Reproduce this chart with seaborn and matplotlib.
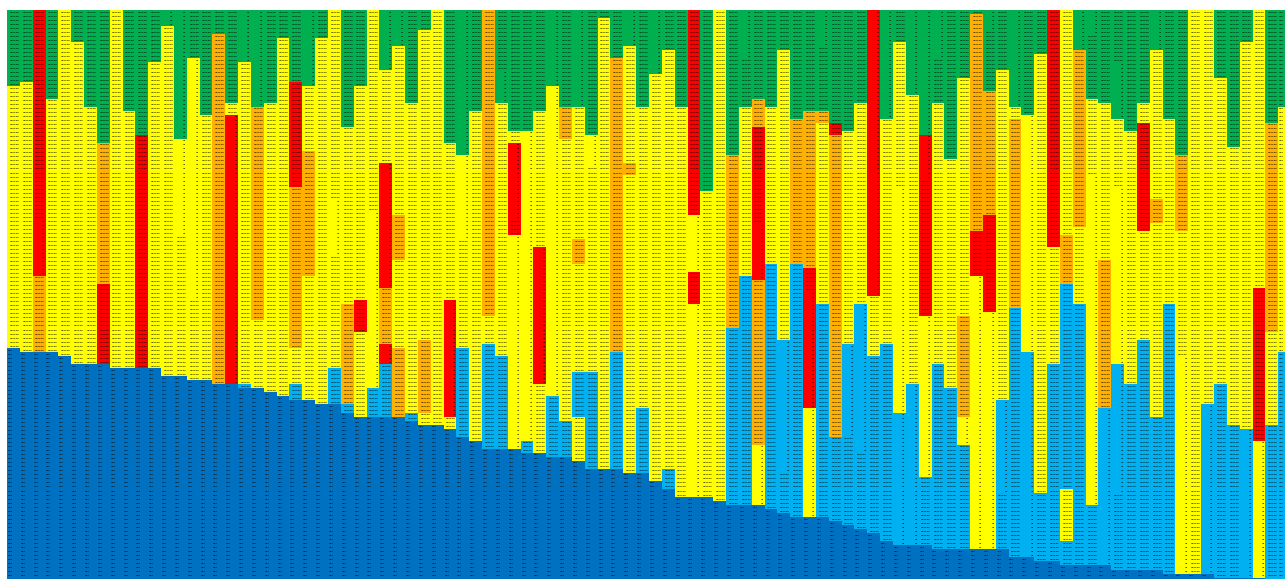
import numpy as np
import seaborn as sb
import matplotlib
matplotlib.use("Agg")
import matplotlib.pyplot as plt
from matplotlib.colors import ListedColormap

# each column from top to bottom: band letter + row where the band ends
columns = [
"G19 Y84 D142","G18 Y85 D142","R66 O85 D142","G22 Y85 D142","Y86 D142","G8 Y88 D142","G24 Y88 D142","G33 O68 R88 D142",
"Y89 D142","G25 Y89 D142","G31 R89 D142","G13 Y89 D142","G4 Y91 D142","G32 Y91 D142","G12 Y92 D142","G26 Y92 D142",
"G6 O93 D142","G23 Y26 R93 D142","G13 Y93 B94 D142","G24 O77 Y94 D142","G23 Y95 D142","G7 Y96 D142","G18 R44 O84 Y93 B97 D142","G19 Y35 O66 Y97 D142",
"G7 Y98 D142","Y89 B98 D142","G29 Y73 O98 B100 D142","G19 Y72 R80 Y101 D142","Y94 B101 D142","G15 Y38 R69 O83 R88 B101 D142","G9 Y51 O62 Y84 O101 D142","G23 Y100 B102 D142",
"G5 Y82 O100 Y103 D142","Y103 D142","G33 Y72 R101 Y104 D142","G36 Y84 B106 D142","G25 Y107 D142","O76 Y83 B109 D142","G23 Y86 B109 D142","G30 Y33 R56 Y109 D142",
"G30 Y107 B110 D142","G25 Y59 R93 Y110 D142","G19 Y96 B111 D142","G24 O32 Y102 B111 D142","G24 Y57 O63 Y90 B101 Y112 D142","G31 Y90 B114 D142","G2 Y114 D142","G12 O85 B114 D142",
"G9 Y38 O41 Y115 D142","G24 Y99 B115 D142","G16 Y117 D142","G10 Y114 B119 D142","G24 Y121 D142","R51 Y65 R73 Y121 D142","G45 Y121 D142","Y122 D142",
"G36 O79 B123 D142","G24 Y66 B123 D142","G22 O29 R67 O108 Y123 D142","G24 Y63 B124 D142","G10 Y82 B125 D142","G27 O63 B126 D142","G25 O64 R99 Y126 D142","G25 O28 Y73 B126 D142",
"G28 R31 O106 B127 D142","G30 Y83 B128 D142","G23 Y73 B129 D142","R71 Y86 B130 D142","G27 Y83 B132 D142","G8 Y100 B133 D142","G21 Y93 B133 D142","G31 R76 Y116 B133 D142",
"G23 Y88 B134 D142","G37 Y94 B134 D142","G17 Y76 O101 Y108 B134 D142","G1 O55 R66 Y134 D142","G20 O51 R75 Y134 D142","G15 Y97 B134 D142","G24 Y27 O74 B136 D142","G26 Y85 B136 D142",
"G11 Y120 B137 D142","R59 Y88 B137 D142","Y56 O68 B119 Y132 B138 D142","G10 O54 Y73 B138 D142","G22 Y123 B138 D142","G23 Y62 O99 B138 D142","G27 Y88 B139 D142","G30 Y93 B139 D142",
"G23 Y28 R55 Y82 B139 D142","G10 Y47 O53 Y101 B139 D142","G27 Y73 B140 D142","G36 O55 Y140 D142","Y140 D142","Y98 B140 D142","G17 Y93 B141 D142","G34 Y103 B141 D142",
"G8 Y104 B141 D142","Y69 R107 Y141 D142","G28 O80 Y103 B142","G24 Y85 B142",
]
band_letters = ["G", "Y", "O", "R", "B", "D"]
band_colors = ["#00B050", "#FFFF00", "#FFB000", "#FF0000", "#00B0F0", "#0070C0"]
# tiny cell texts are not readable in the picture, these are estimates
long_label = "123456"
short_label = "12"
blue_label = "123"
# cells that hold only a short number: column, first row, end row
short_cols = [2, 12, 13, 14, 17, 18, 19, 23, 25, 28, 29, 29, 29, 30, 34, 35, 38, 39, 39, 40, 41, 42, 44, 45, 48,
              50, 53, 53, 57, 58, 58, 60, 62, 62, 63, 65, 66, 67, 68, 69, 70, 70, 71, 71, 71, 72, 74, 75, 76, 76,
              77, 78, 79, 83, 84, 84, 85, 86, 86, 89, 91, 93, 96, 97]
short_starts = [52, 0, 0, 12, 26, 0, 0, 0, 47, 50, 0, 38, 83, 0, 72, 0, 15, 33, 56, 30, 59, 0, 0, 31, 0,
                0, 51, 73, 0, 53, 108, 82, 70, 99, 0, 83, 73, 0, 0, 44, 0, 93, 0, 31, 76, 0, 101, 66, 0, 75,
                97, 0, 26, 0, 0, 41, 99, 13, 44, 0, 86, 98, 104, 107]
short_ends = [66, 4, 56, 72, 93, 13, 24, 19, 61, 94, 15, 69, 88, 9, 101, 57, 23, 52, 109, 107, 93, 96, 24, 39, 9,
              16, 65, 121, 12, 67, 123, 115, 99, 126, 9, 106, 110, 71, 27, 133, 21, 133, 31, 42, 116, 12, 108, 134, 5, 134,
              120, 24, 136, 10, 6, 123, 138, 27, 120, 10, 140, 140, 141, 141]

n_rows = 142
grid = np.zeros((n_rows, len(columns)), dtype=int)
labels = np.full(grid.shape, long_label, dtype=object)
for c, col in enumerate(columns):
    start = 0
    for part in col.split():
        end = int(part[1:])
        grid[start:end, c] = band_letters.index(part[0])
        start = end
for c, a, b in zip(short_cols, short_starts, short_ends):
    labels[a:b, c] = short_label
labels[grid == 5] = blue_label
labels[:, 99] = blue_label

fig = plt.figure(figsize=(12.85, 5.79), dpi=100)
ax = fig.add_axes([7 / 1285, 0, 1278 / 1285, 569 / 579])
sb.heatmap(grid, ax=ax, cmap=ListedColormap(band_colors), vmin=0, vmax=5, cbar=False,
           annot=labels, fmt="", annot_kws={"size": 1.75, "color": "black", "weight": "bold", "alpha": 0.8},
           xticklabels=False, yticklabels=False)
ax.set_xlim(0, 99.53)
ax.set_ylim(141.36, 0)
# numbers sit at the right of the cell, the dark blue ones at the left
for t in ax.texts:
    x, y = t.get_position()
    if t.get_text() == blue_label:
        t.set_x(x - 0.45)
        t.set_ha("left")
    else:
        t.set_x(x + 0.45)
        t.set_ha("right")
fig.savefig("out.png", dpi=100)
